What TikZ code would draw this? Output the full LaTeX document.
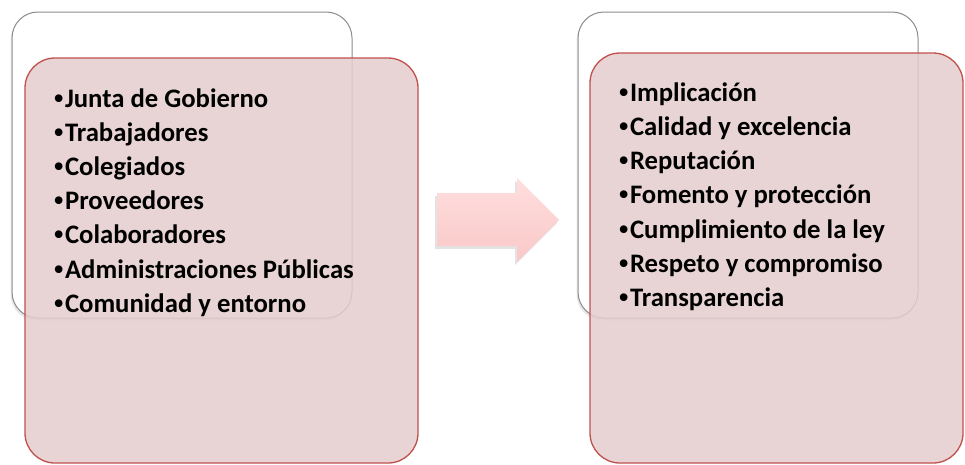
\documentclass[tikz,border=0pt]{standalone}
\usepackage{fontspec}
\setmainfont{Carlito}
\newfontfamily\bulfont{Liberation Sans}
\usetikzlibrary{shadows}
\definecolor{backline}{RGB}{140,140,140}
\definecolor{redline}{RGB}{192,80,77}
\definecolor{pinkfill}{RGB}{229,205,206}
\definecolor{arrtop}{RGB}{255,222,222}
\definecolor{arrbot}{RGB}{250,200,200}
\newcommand{\mybul}{{\bulfont\bfseries •}\hspace{1.5pt}}
\begin{document}
\begin{tikzpicture}[x=1pt,y=-1pt,
  backbox/.style={draw=backline, line width=1pt, fill=white, rounded corners=26pt,
    drop shadow={opacity=0.18, shadow xshift=-1.5pt, shadow yshift=-2.5pt}},
  frontbox/.style={draw=redline, line width=1.3pt, fill=pinkfill, fill opacity=0.85, rounded corners=30pt},
  item/.style={anchor=base west, inner sep=0pt, font=\bfseries\fontsize{26.7}{30}\selectfont},
  arr/.style={top color=arrtop, bottom color=arrbot, draw=none,
    drop shadow={opacity=0.22, shadow xshift=-2pt, shadow yshift=-3pt}}]
\useasboundingbox (0,0) rectangle (965,464);
% left group
\path[backbox] (12,12) rectangle (352,318);
\path[frontbox] (25,58) rectangle (418,463);
\foreach \t [count=\i] in {Junta de Gobierno,Trabajadores,Colegiados,Proveedores,Colaboradores,Administraciones Públicas,Comunidad y entorno}
  \node[item] (L\i) at (54,{107+34.2*(\i-1)}) {\mybul\t};
% arrow
\path[arr] (437,193) -- (517,193) -- (517,178) -- (559,220) -- (517,262) -- (517,246) -- (437,246) -- cycle;
% right group
\path[backbox] (578,12) rectangle (918,318);
\path[frontbox] (590,53) rectangle (963,463);
\foreach \t [count=\i] in {Implicación,Calidad y excelencia,Reputación,Fomento y protección,Cumplimiento de la ley,Respeto y compromiso,Transparencia}
  \node[item] (R\i) at (619,{101+34.3*(\i-1)}) {\mybul\t};
\end{tikzpicture}
\end{document}
